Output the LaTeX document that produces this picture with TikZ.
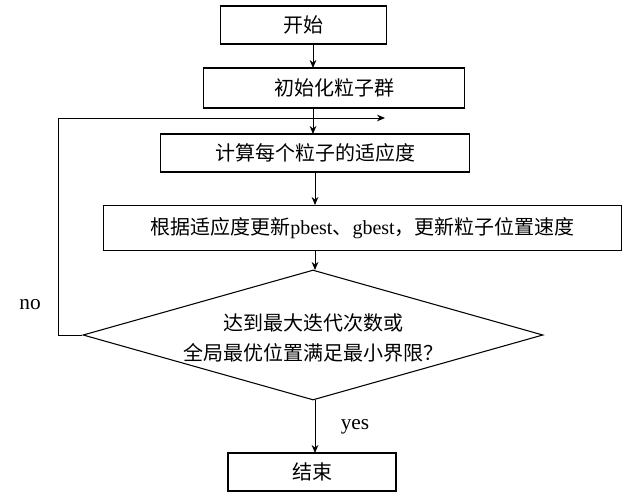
\documentclass[tikz,border=0pt]{standalone}
\usepackage{fontspec}
\setmainfont{Liberation Serif}
\newfontfamily\cjk{Noto Sans CJK SC}
\usetikzlibrary{arrows.meta,shapes.geometric}
\begin{document}
\begin{tikzpicture}[x=0.75pt,y=-0.75pt,
  box/.style={draw,line width=0.8pt,minimum height=28.5pt,inner sep=0pt,font=\fontsize{15}{17}\selectfont},
  arr/.style={-{Stealth[length=6pt,width=5pt]},line width=0.6pt},
  lbl/.style={font=\fontsize{16}{18}\selectfont}]
\useasboundingbox (0,0) rectangle (635,500);
\node[box,minimum width=125pt] (start) at (303.5,25) {\cjk 开始};
\node[box,minimum width=196pt,minimum height=30pt] (init) at (334,88) {\cjk 初始化粒子群};
\node[box,minimum width=232pt] (calc) at (315,153) {\cjk 计算每个粒子的适应度};
\node[box,minimum width=389pt,minimum height=34pt] (upd) at (362.5,228) {{\cjk 根据适应度更新}pbest{\cjk 、}gbest{\cjk ，更新粒子位置速度}};
\node[draw,line width=0.8pt,diamond,minimum width=345pt,minimum height=97.5pt,inner sep=0pt,aspect=3.5] (dec) at (313,335) {};
\node[font=\fontsize{15}{22}\selectfont,align=center] at (313,338) {\cjk 达到最大迭代次数或\\\cjk 全局最优位置满足最小界限？};
\node[box,minimum width=126pt] (end) at (312,472) {\cjk 结束};
\draw[arr] (313,44) -- (313,68);
\draw[arr] (313,108) -- (313,134);
\draw[arr] (315,172) -- (315,205);
\draw[arr] (315,251) -- (315,270);
\draw[arr] (315,400) -- (315,453);
\draw[arr] (dec.west) -- (58,335) -- (58,118) -- (385,118);
\node[lbl] at (355,427) {yes};
\node[lbl] at (30,305) {no};
\end{tikzpicture}
\end{document}
